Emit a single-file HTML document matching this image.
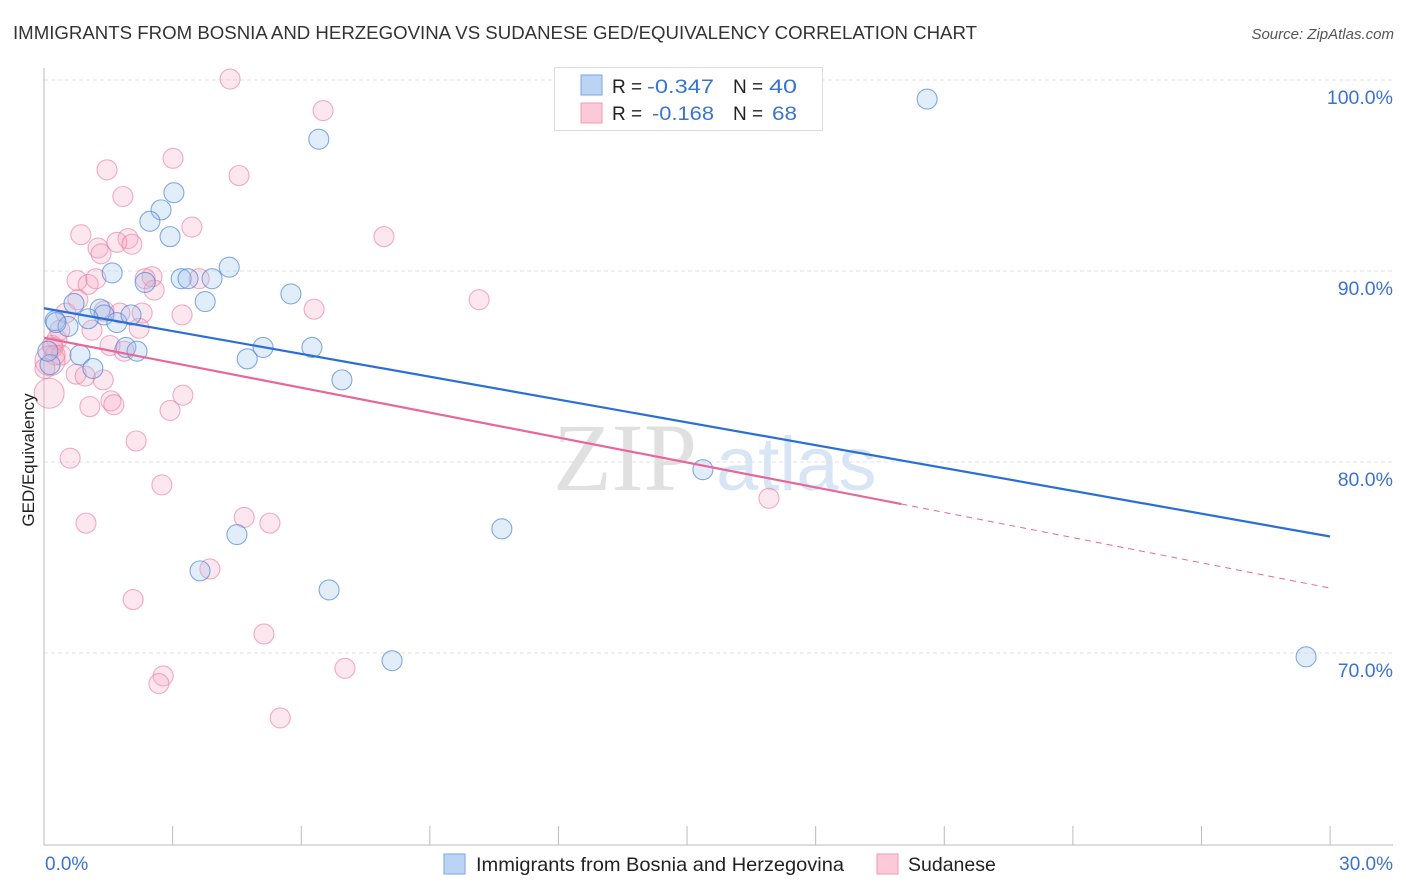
<!DOCTYPE html>
<html><head><meta charset="utf-8"><style>
body{margin:0;background:#fff;font-family:"Liberation Sans",sans-serif;}
svg{display:block}
</style></head><body>
<svg id="chart" width="1406" height="892" xmlns="http://www.w3.org/2000/svg">
<text x="13" y="39" font-size="18" fill="#333" textLength="964" lengthAdjust="spacingAndGlyphs">IMMIGRANTS FROM BOSNIA AND HERZEGOVINA VS SUDANESE GED/EQUIVALENCY CORRELATION CHART</text>
<text x="1394" y="39" font-size="15" fill="#555" font-style="italic" text-anchor="end">Source: ZipAtlas.com</text>
<g>
<text x="553" y="490" font-size="96" fill="#ddd" font-family="Liberation Serif,serif" opacity="0.9">ZIP</text>
<text x="716" y="490" font-size="76" fill="#cfdff3" opacity="0.8">atlas</text>
</g>
<g id="grid"></g>
<g id="axes"></g>
<g id="pts"></g>
<g id="lines"></g>
<text x="34" y="460" font-size="17" fill="#222" text-anchor="middle" transform="rotate(-90 34 460)">GED/Equivalency</text>
<text x="45" y="870" font-size="19" fill="#3b73d1">0.0%</text>
<text x="1393" y="870" font-size="19" fill="#3b73d1" text-anchor="end">30.0%</text>
<g>
<rect x="554.5" y="67.5" width="268" height="63" fill="#fff" stroke="#ddd"/>
<rect x="581" y="75" width="21" height="20" fill="#bcd4f4" stroke="#7aa6e3"/>
<rect x="581" y="103" width="21" height="20" fill="#fbc9d8" stroke="#ee9db7"/>
<text x="612" y="93" font-size="19" fill="#222">R =</text>
<text x="647" y="93" font-size="19" fill="#3b73d1" textLength="67" lengthAdjust="spacingAndGlyphs">-0.347</text>
<text x="733" y="93" font-size="19" fill="#222">N =</text>
<text x="769" y="93" font-size="19" fill="#3b73d1" textLength="28" lengthAdjust="spacingAndGlyphs">40</text>
<text x="612" y="120" font-size="19" fill="#222">R =</text>
<text x="652" y="120" font-size="19" fill="#3b73d1" textLength="62" lengthAdjust="spacingAndGlyphs">-0.168</text>
<text x="733" y="120" font-size="19" fill="#222">N =</text>
<text x="772" y="120" font-size="19" fill="#3b73d1" textLength="25" lengthAdjust="spacingAndGlyphs">68</text>
</g>
<g>
<rect x="444" y="854" width="21" height="20" fill="#bcd4f4" stroke="#7aa6e3"/>
<text x="476" y="871" font-size="19.5" fill="#222" textLength="368" lengthAdjust="spacingAndGlyphs">Immigrants from Bosnia and Herzegovina</text>
<rect x="877" y="854" width="21" height="20" fill="#fbc9d8" stroke="#ee9db7"/>
<text x="908" y="871" font-size="19.5" fill="#222">Sudanese</text>
</g>
</svg>
<script>
const yTicks=[100,90,80,70];
const yTickLabels=["100.0%","90.0%","80.0%","70.0%"];
const xTicks=[0,3,6,9,12,15,18,21,24,27,30];
const blueX=[20.6,6.41,3.03,2.73,2.47,2.94,4.32,1.59,3.2,3.36,3.92,2.36,5.76,3.76,0.7,0.26,0.56,1.31,1.4,1.7,2.03,1.03,1.91,2.17,5.11,6.25,4.74,0.84,1.14,6.95,0.14,15.37,10.68,4.5,3.64,6.65,8.12,29.44,0.28,0.09];
const blueY=[99.0,96.9,94.1,93.2,92.6,91.8,90.2,89.9,89.6,89.6,89.6,89.4,88.8,88.4,88.3,87.4,87.1,88.0,87.7,87.3,87.7,87.5,86.0,85.8,86.0,86.0,85.4,85.6,84.9,84.3,85.1,79.6,76.5,76.2,74.3,73.3,69.6,69.8,87.3,85.8];
const pinkX=[4.34,6.51,3.01,1.47,4.55,1.84,0.86,3.45,1.26,1.96,1.7,2.05,1.33,7.93,0.77,2.52,2.36,3.62,1.03,1.21,2.57,0.79,10.15,6.3,3.22,2.29,1.77,1.4,0.51,1.12,2.22,0.3,0.21,1.54,1.87,0.4,0.75,1.38,0.96,0.14,0.12,3.24,1.56,1.63,1.07,2.94,2.15,0.61,2.75,4.67,5.27,0.98,16.91,3.87,2.08,5.13,7.02,2.78,2.68,5.51,0.19,0.37,0.26,0.02];
const pinkY=[100.05,98.4,95.9,95.3,95.0,93.9,91.9,92.3,91.2,91.7,91.5,91.4,90.9,91.8,89.5,89.7,89.6,89.6,89.3,89.6,89.0,88.5,88.5,88.0,87.7,87.8,87.8,87.9,87.8,86.9,87.0,86.4,86.0,86.1,85.8,85.6,84.6,84.3,84.5,85.3,83.6,83.5,83.2,83.0,82.9,82.7,81.1,80.2,78.8,77.1,76.8,76.8,78.1,74.4,72.8,71.0,69.2,68.8,68.4,66.6,86.1,86.9,85.6,84.9];
const pinkBig=[39,40];
const blueTrend=[[0,88.05],[30,76.1]];
const pinkTrend=[[0,86.5],[20.0,77.8],[30,73.4]];

const X=v=>44+v*42.87, Y=v=>80+(100-v)*19.1;
const NS="http://www.w3.org/2000/svg";
function mk(tag,attrs,parent){const e=document.createElementNS(NS,tag);for(const k in attrs)e.setAttribute(k,attrs[k]);parent.appendChild(e);return e;}
const grid=document.getElementById('grid'),axes=document.getElementById('axes'),pts=document.getElementById('pts'),lines=document.getElementById('lines');
yTicks.forEach((t,i)=>{
 const l=mk('line',{x1:44,x2:1393,y1:Y(t),y2:Y(t),stroke:'#e2e2e2','stroke-dasharray':'4,3'},grid);
 
 
 const tx=mk('text',{x:1393,y:Y(t)+24,'font-size':19.5,fill:'#3b73d1','text-anchor':'end'},grid);
 tx.textContent=yTickLabels[i];
 
 
});
const ya=mk('line',{x1:44,x2:44,y1:68,y2:845,stroke:'#bbb'},axes);


const xa=mk('line',{x1:44,x2:1393,y1:845,y2:845,stroke:'#bbb'},axes);


xTicks.forEach(t=>{
 const l=mk('line',{x1:X(t),x2:X(t),y1:826,y2:845,stroke:'#bbb'},axes);
 
 
});
pinkX.forEach((v,i)=>{
 const r=pinkBig.includes(i)?15:10;
 const c=mk('circle',{cx:X(v),cy:Y(pinkY[i]),r:r,fill:'rgba(246,160,188,0.25)',stroke:'rgba(232,120,158,0.6)','stroke-width':1.1},pts);
 
 
});
blueX.forEach((v,i)=>{
 const c=mk('circle',{cx:X(v),cy:Y(blueY[i]),r:10,fill:'rgba(160,195,240,0.3)',stroke:'rgba(80,135,215,0.7)','stroke-width':1.1},pts);
 
 
});
const bl=mk('line',{x1:X(blueTrend[0][0]),y1:Y(blueTrend[0][1]),x2:X(blueTrend[1][0]),y2:Y(blueTrend[1][1]),stroke:'#2a6fd6','stroke-width':2.2},lines);


const pl=mk('line',{x1:X(pinkTrend[0][0]),y1:Y(pinkTrend[0][1]),x2:X(pinkTrend[1][0]),y2:Y(pinkTrend[1][1]),stroke:'#e8679a','stroke-width':2.2},lines);


const pd=mk('line',{x1:X(pinkTrend[1][0]),y1:Y(pinkTrend[1][1]),x2:X(pinkTrend[2][0]),y2:Y(pinkTrend[2][1]),stroke:'#e8679a','stroke-width':1,'stroke-dasharray':'6,5'},lines);


</script>
</body></html>
